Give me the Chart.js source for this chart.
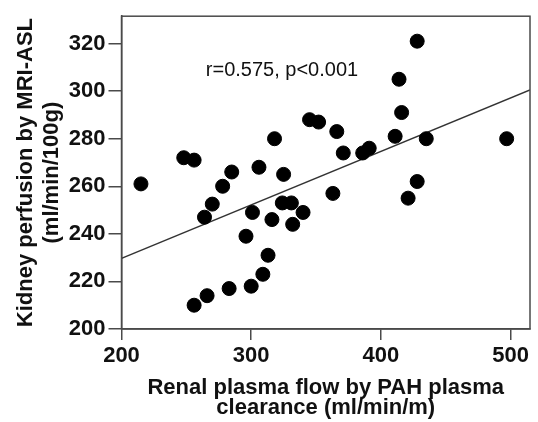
<!DOCTYPE html>
<html>
<head>
<meta charset="utf-8">
<script src="https://cdn.jsdelivr.net/npm/chart.js@4.4.1/dist/chart.umd.min.js"></script>
<style>
    html, body { margin: 0; padding: 0; background: #fff; }
    #wrap { width: 538px; height: 422px; position: relative; }
</style>
</head>
<body>
<div id="wrap"><canvas id="chart"></canvas></div>
<script>
// Renal plasma flow (PAH clearance) vs kidney perfusion (MRI-ASL)
const rpfValues = [215, 248, 256, 264, 270, 278, 285, 256, 266, 283, 296, 300, 301, 306, 309,
    313, 316, 318, 324, 325, 331, 332, 340, 345, 352, 363, 366, 371, 386, 391, 411, 414, 416,
    421, 428, 428, 435, 497];
const perfusionValues = [261, 272, 271, 247, 252.5, 260, 266, 210, 214, 217, 239, 218, 249, 268, 223,
    231, 246, 280, 253, 265, 253, 244, 249, 288, 287, 257, 283, 274, 274, 276, 281, 305, 291,
    255, 262, 321, 280, 280];

// regression line end points
const fitX = [200, 515];
const fitY = [229.7, 300.5];

const xTicks = [200, 300, 400, 500];
const yTicks = [200, 220, 240, 260, 280, 300, 320];

const statsText = 'r=0.575, p<0.001';
const statsAt = { x: 265, y: 308.7 };

const FONT = "'Liberation Sans', Arial, sans-serif";
const AXIS_COLOR = '#4a4a4a';

const framePlugin = {
    id: 'frame',
    afterDraw(chart) {
        const { ctx, chartArea: a } = chart;
        ctx.save();
        ctx.strokeStyle = AXIS_COLOR;
        ctx.lineWidth = 1.5;
        ctx.strokeRect(a.left, a.top, a.right - a.left, a.bottom - a.top);
        ctx.restore();
    }
};

const statsPlugin = {
    id: 'stats',
    afterDatasetsDraw(chart) {
        const { ctx, scales } = chart;
        ctx.save();
        ctx.font = '20px ' + FONT;
        ctx.fillStyle = '#111';
        ctx.textAlign = 'left';
        ctx.textBaseline = 'middle';
        ctx.fillText(statsText, scales.x.getPixelForValue(statsAt.x), scales.y.getPixelForValue(statsAt.y));
        ctx.restore();
    }
};

new Chart(document.getElementById('chart'), {
    type: 'scatter',
    data: {
        datasets: [{
            data: rpfValues.map((v, i) => ({ x: v, y: perfusionValues[i] })),
            backgroundColor: '#000',
            borderColor: '#000',
            pointRadius: 7,
            borderWidth: 1,
            order: 0
        }, {
            type: 'line',
            data: fitX.map((v, i) => ({ x: v, y: fitY[i] })),
            borderColor: '#333',
            borderWidth: 1.5,
            pointRadius: 0,
            fill: false,
            order: 1
        }]
    },
    options: {
        responsive: true,
        maintainAspectRatio: false,
        animation: false,
        events: [],
        layout: { padding: { top: 16, right: 2, left: 0, bottom: 0 } },
        plugins: {
            legend: { display: false },
            tooltip: { enabled: false }
        },
        scales: {
            x: {
                type: 'linear',
                min: 200,
                max: 515,
                afterFit(scale) { scale.height = 93; },
                afterBuildTicks(scale) { scale.ticks = xTicks.map(v => ({ value: v })); },
                border: { color: AXIS_COLOR, width: 1.5 },
                grid: { drawOnChartArea: false, color: AXIS_COLOR, lineWidth: 1.5, tickLength: 11 },
                ticks: {
                    color: '#111',
                    padding: 3,
                    maxRotation: 0,
                    font: { family: FONT, size: 22, weight: 'bold' }
                },
                title: {
                    display: true,
                    text: ['Renal plasma flow by PAH plasma', 'clearance (ml/min/m)'],
                    color: '#111',
                    padding: { top: 0, bottom: 4.5 },
                    font: { family: FONT, size: 22, weight: 'bold', lineHeight: 20 / 22 }
                }
            },
            y: {
                type: 'linear',
                min: 200,
                max: 331.5,
                afterFit(scale) { scale.width = 121.5; },
                afterBuildTicks(scale) { scale.ticks = yTicks.map(v => ({ value: v })); },
                border: { color: AXIS_COLOR, width: 1.5 },
                grid: { drawOnChartArea: false, color: AXIS_COLOR, lineWidth: 1.5, tickLength: 13 },
                ticks: {
                    color: '#111',
                    padding: 3,
                    font: { family: FONT, size: 22, weight: 'bold' }
                },
                title: {
                    display: true,
                    text: ['Kidney perfusion by MRI-ASL', '(ml/min/100g)'],
                    color: '#111',
                    padding: { top: 13, bottom: 0 },
                    font: { family: FONT, size: 22, weight: 'bold', lineHeight: 26 / 22 }
                }
            }
        }
    },
    plugins: [framePlugin, statsPlugin]
});
</script>
</body>
</html>
